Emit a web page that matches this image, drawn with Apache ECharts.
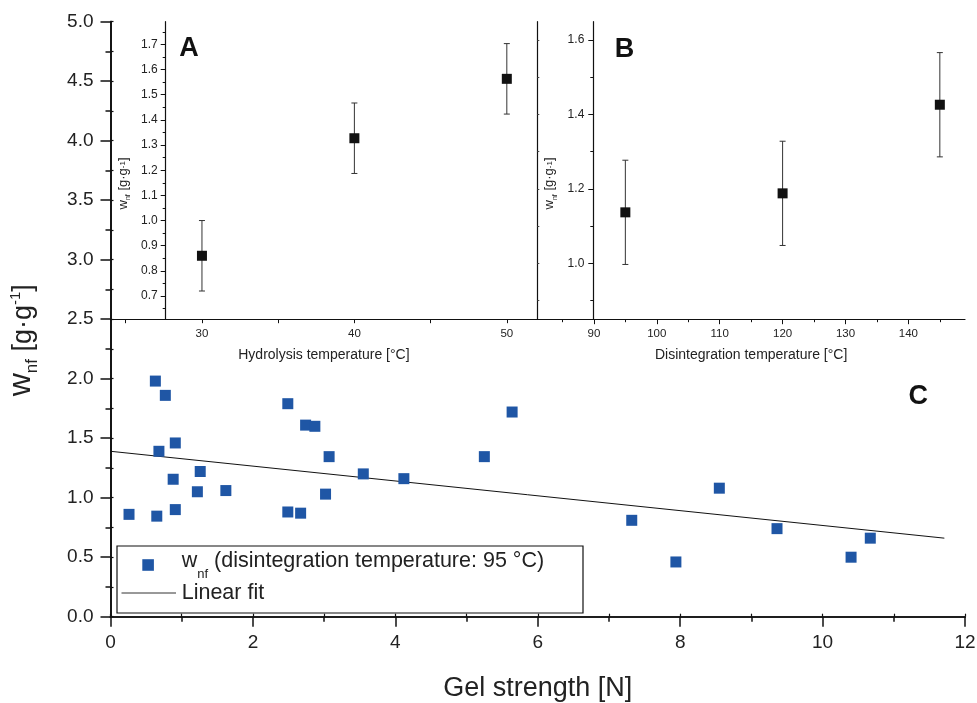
<!DOCTYPE html>
<html>
<head>
<meta charset="utf-8">
<title>wnf vs gel strength</title>
<script src="https://cdn.jsdelivr.net/npm/echarts@6.0.0/dist/echarts.min.js"></script>
<style>
html, body { margin: 0; padding: 0; background: #fff; }
#chart { width: 977px; height: 703px; }
</style>
</head>
<body>
<div id="chart"></div>
<script>
var FONT = 'Liberation Sans, Arial, sans-serif';

// C: gel strength [N] -> wnf
var gelStrength = [0.26, 0.63, 0.77, 0.68, 0.91, 0.88, 0.65, 0.91, 1.26, 1.22, 1.62, 2.49, 2.74, 2.87,
	3.07, 2.49, 2.67, 3.02, 3.55, 4.12, 5.25, 5.64, 7.32, 7.94, 8.55, 9.36, 10.40, 10.67];
var wnfGel = [0.86, 1.98, 1.86, 1.39, 1.46, 1.155, 0.845, 0.90, 1.22, 1.05, 1.06, 1.79, 1.61, 1.60,
	1.345, 0.88, 0.87, 1.03, 1.20, 1.16, 1.345, 1.72, 0.81, 0.46, 1.08, 0.74, 0.50, 0.66];
var fitX = [0, 11.71];
var fitY = [1.39, 0.66];

// A: hydrolysis temperature
var hydroTemp = [30, 40, 50];
var hydroWnf = [0.86, 1.327, 1.563];
var hydroErr = [0.14, 0.14, 0.14];
var hydroXTicks = [25, 30, 35, 40, 45, 50];
var hydroXLabels = [30, 40, 50];
var hydroYLabels = [0.7, 0.8, 0.9, 1.0, 1.1, 1.2, 1.3, 1.4, 1.5, 1.6, 1.7];
var hydroYMinor = [0.65, 0.75, 0.85, 0.95, 1.05, 1.15, 1.25, 1.35, 1.45, 1.55, 1.65, 1.75];

// B: disintegration temperature
var disTemp = [95, 120, 145];
var disWnf = [1.137, 1.188, 1.426];
var disErr = [0.14, 0.14, 0.14];
var disXLabels = [90, 100, 110, 120, 130, 140];
var disXMinor = [85, 95, 105, 115, 125, 135, 145];
var disYLabels = [1.0, 1.2, 1.4, 1.6];
var disYMinor = [0.9, 1.1, 1.3, 1.5];
var disYFrame = [0.9, 1.0, 1.1, 1.2, 1.3, 1.4, 1.5, 1.6];

// frame in pixels
var L = 110.5, T = 21.7, R = 965, B = 616.7, MID = 319.2, SPLIT = 537.3;

var chart = echarts.init(document.getElementById('chart'));

function pairs(xs, ys) {
	return xs.map(function (x, i) { return [x, ys[i]]; });
}
function bars(xs, ys, es) {
	return xs.map(function (x, i) { return [x, ys[i] - es[i], ys[i] + es[i]]; });
}
function renderErrorBar(params, api) {
	var top = api.coord([api.value(0), api.value(2)]);
	var bot = api.coord([api.value(0), api.value(1)]);
	var cap = 3;
	var st = { stroke: '#333', lineWidth: 1 };
	return {
		type: 'group',
		children: [
			{ type: 'line', shape: { x1: top[0], y1: top[1], x2: bot[0], y2: bot[1] }, style: st },
			{ type: 'line', shape: { x1: top[0] - cap, y1: top[1], x2: top[0] + cap, y2: top[1] }, style: st },
			{ type: 'line', shape: { x1: bot[0] - cap, y1: bot[1], x2: bot[0] + cap, y2: bot[1] }, style: st }
		]
	};
}
function fmt1(v) { return (+v).toFixed(1); }

var noSplit = { show: false };
var lineOff = { show: false };
var labelOff = { show: false };

var insetName = '{t|w}{s|nf}{t| [g·g}{p|-1}{t|]}';
var insetRich = {
	t: { fontSize: 13, lineHeight: 13, verticalAlign: 'bottom', padding: [0, 0, 2, 0], fontFamily: FONT, color: '#222' },
	s: { fontSize: 7, lineHeight: 7, verticalAlign: 'bottom', fontFamily: FONT, color: '#222' },
	p: { fontSize: 8, lineHeight: 8, verticalAlign: 'top', fontFamily: FONT, color: '#222' }
};

var option = {
	animation: false,
	backgroundColor: '#fff',
	grid: [
		{ left: L, top: T, width: R - L, height: B - T, outerBoundsMode: 'none' },
		{ left: L, top: T, width: SPLIT - L, height: MID - T, outerBoundsMode: 'none' },
		{ left: SPLIT, top: T, width: R - SPLIT, height: MID - T, outerBoundsMode: 'none' }
	],
	xAxis: [
		{
			gridIndex: 0, type: 'value', position: 'bottom', min: 0, max: 12, interval: 2,
			name: 'Gel strength [N]', nameLocation: 'middle', nameGap: 58,
			nameTextStyle: { fontSize: 27, fontFamily: FONT, color: '#222' },
			axisLine: { show: true, lineStyle: { color: '#111', width: 1.7 } },
			axisTick: { show: true, length: 10, lineStyle: { color: '#111', width: 1.5 } },
			minorTick: { show: true, splitNumber: 2, length: 5, lineStyle: { color: '#111', width: 1.5 } },
			axisLabel: { margin: 17, fontSize: 19, fontFamily: FONT, color: '#222' },
			splitLine: noSplit
		},
		{
			gridIndex: 0, type: 'value', position: 'top', min: 0, max: 12, interval: 1,
			axisLine: { show: true, lineStyle: { color: '#111', width: 1.7 } },
			axisTick: { show: true, length: 3, lineStyle: { color: '#111', width: 1.2 } },
			axisLabel: labelOff, splitLine: noSplit
		},
		{
			gridIndex: 1, type: 'value', position: 'bottom', min: 24, max: 52,
			name: 'Hydrolysis temperature [°C]', nameLocation: 'middle', nameGap: 29,
			nameTextStyle: { fontSize: 14, fontFamily: FONT, color: '#222' },
			axisLine: { show: true, onZero: false, lineStyle: { color: '#111', width: 1.2 } },
			axisTick: { show: true, length: 4, customValues: hydroXTicks, lineStyle: { color: '#111' } },
			axisLabel: { margin: 9, fontSize: 11.5, fontFamily: FONT, color: '#222', customValues: hydroXLabels },
			splitLine: noSplit
		},
		{
			gridIndex: 2, type: 'value', position: 'bottom', min: 81, max: 149,
			name: 'Disintegration temperature [°C]', nameLocation: 'middle', nameGap: 29,
			nameTextStyle: { fontSize: 14, fontFamily: FONT, color: '#222' },
			axisLine: { show: true, onZero: false, lineStyle: { color: '#111', width: 1.2 } },
			axisTick: { show: true, length: 5, customValues: disXLabels, lineStyle: { color: '#111' } },
			axisLabel: { margin: 9, fontSize: 11.5, fontFamily: FONT, color: '#222', customValues: disXLabels },
			splitLine: noSplit
		},
		{
			gridIndex: 2, type: 'value', position: 'bottom', min: 81, max: 149,
			axisLine: lineOff,
			axisTick: { show: true, length: 3, customValues: disXMinor, lineStyle: { color: '#111' } },
			axisLabel: labelOff, splitLine: noSplit
		}
	],
	yAxis: [
		{
			gridIndex: 0, type: 'value', position: 'left', min: 0, max: 5, interval: 0.5,
			name: '{w|w}{s|nf}{t| [g·g}{p|-1}{t|]}', nameLocation: 'middle', nameGap: 70,
			nameTextStyle: {
				padding: [0, 42, 0, 0],
				rich: {
					w: { fontSize: 32, lineHeight: 32, verticalAlign: 'bottom', padding: [0, 0, 3, 0], fontFamily: FONT, color: '#222' },
					t: { fontSize: 27, lineHeight: 27, verticalAlign: 'bottom', padding: [0, 0, 3, 0], fontFamily: FONT, color: '#222' },
					s: { fontSize: 17, lineHeight: 17, verticalAlign: 'bottom', fontFamily: FONT, color: '#222' },
					p: { fontSize: 15, lineHeight: 15, verticalAlign: 'top', fontFamily: FONT, color: '#222' }
				}
			},
			axisLine: { show: true, lineStyle: { color: '#111', width: 1.7 } },
			axisTick: { show: true, length: 10, lineStyle: { color: '#111', width: 1.5 } },
			minorTick: { show: true, splitNumber: 2, length: 5, lineStyle: { color: '#111', width: 1.5 } },
			axisLabel: { margin: 17, fontSize: 19, fontFamily: FONT, color: '#222', formatter: fmt1 },
			splitLine: noSplit
		},
		{
			gridIndex: 0, type: 'value', position: 'right', min: 0, max: 5, interval: 0.25,
			axisLine: { show: true, lineStyle: { color: '#111', width: 1.7 } },
			axisTick: { show: true, length: 3, lineStyle: { color: '#111', width: 1.2 } },
			axisLabel: labelOff, splitLine: noSplit
		},
		{
			gridIndex: 1, type: 'value', position: 'left', offset: -55.2, min: 0.608, max: 1.79,
			name: insetName, nameLocation: 'middle', nameGap: 34,
			nameTextStyle: { padding: [0, 26, 0, 0], rich: insetRich },
			axisLine: { show: true, onZero: false, lineStyle: { color: '#111', width: 1.2 } },
			axisTick: { show: true, length: 5, customValues: hydroYLabels, lineStyle: { color: '#111' } },
			axisLabel: { margin: 8, fontSize: 12, fontFamily: FONT, color: '#222', customValues: hydroYLabels, formatter: fmt1 },
			splitLine: noSplit
		},
		{
			gridIndex: 1, type: 'value', position: 'left', offset: -55.2, min: 0.608, max: 1.79,
			axisLine: lineOff,
			axisTick: { show: true, length: 3, customValues: hydroYMinor, lineStyle: { color: '#111' } },
			axisLabel: labelOff, splitLine: noSplit
		},
		{
			gridIndex: 1, type: 'value', position: 'right', min: 0.608, max: 1.79,
			axisLine: { show: true, onZero: false, lineStyle: { color: '#111', width: 1.2 } },
			axisTick: { show: false }, axisLabel: labelOff, splitLine: noSplit
		},
		{
			gridIndex: 2, type: 'value', position: 'left', offset: -56, min: 0.85, max: 1.649,
			name: insetName, nameLocation: 'middle', nameGap: 35,
			nameTextStyle: { padding: [0, 26, 0, 0], rich: insetRich },
			axisLine: { show: true, onZero: false, lineStyle: { color: '#111', width: 1.2 } },
			axisTick: { show: true, length: 5, customValues: disYLabels, lineStyle: { color: '#111' } },
			axisLabel: { margin: 9, fontSize: 12, fontFamily: FONT, color: '#222', customValues: disYLabels, formatter: fmt1 },
			splitLine: noSplit
		},
		{
			gridIndex: 2, type: 'value', position: 'left', offset: -56, min: 0.85, max: 1.649,
			axisLine: lineOff,
			axisTick: { show: true, length: 3, customValues: disYMinor, lineStyle: { color: '#111' } },
			axisLabel: labelOff, splitLine: noSplit
		},
		{
			gridIndex: 2, type: 'value', position: 'left', min: 0.85, max: 1.649,
			axisLine: lineOff,
			axisTick: { show: true, inside: true, length: 2, customValues: disYFrame, lineStyle: { color: '#444' } },
			axisLabel: labelOff, splitLine: noSplit
		}
	],
	graphic: [
		{ type: 'text', x: 189, y: 49, style: { text: 'A', font: 'bold 27px ' + FONT, fill: '#111', align: 'center', verticalAlign: 'middle' } },
		{ type: 'text', x: 624.5, y: 50, style: { text: 'B', font: 'bold 27px ' + FONT, fill: '#111', align: 'center', verticalAlign: 'middle' } },
		{ type: 'text', x: 918.3, y: 397, style: { text: 'C', font: 'bold 27px ' + FONT, fill: '#111', align: 'center', verticalAlign: 'middle' } },
		// legend box
		{ type: 'rect', shape: { x: 117, y: 546, width: 466, height: 67 }, style: { fill: '#fff', stroke: '#111', lineWidth: 1.2 }, z: 50 },
		{ type: 'rect', shape: { x: 142.3, y: 559.2, width: 11.6, height: 11.6 }, style: { fill: '#1f56a5' }, z: 51 },
		{ type: 'line', shape: { x1: 121.5, y1: 593, x2: 176, y2: 593 }, style: { stroke: '#333', lineWidth: 1 }, z: 51 },
		{
			type: 'text', x: 181.7, y: 570.5, z: 51,
			style: {
				text: '{w|w}{s|nf}{w| (disintegration temperature: 95 °C)}',
				verticalAlign: 'middle', align: 'left',
				rich: {
					w: { fontSize: 21.5, lineHeight: 21, verticalAlign: 'bottom', padding: [0, 0, 9, 0], fontFamily: FONT, fill: '#222' },
					s: { fontSize: 13, lineHeight: 13, verticalAlign: 'bottom', fontFamily: FONT, fill: '#222' }
				}
			}
		},
		{ type: 'text', x: 181.7, y: 593, z: 51, style: { text: 'Linear fit', font: '21.5px ' + FONT, fill: '#222', align: 'left', verticalAlign: 'middle' } }
	],
	series: [
		{
			name: 'Linear fit', type: 'line', xAxisIndex: 0, yAxisIndex: 0,
			data: pairs(fitX, fitY), symbol: 'none',
			lineStyle: { color: '#111', width: 1 }, z: 2
		},
		{
			name: 'wnf', type: 'scatter', xAxisIndex: 0, yAxisIndex: 0,
			data: pairs(gelStrength, wnfGel), symbol: 'rect', symbolSize: 11,
			itemStyle: { color: '#1f56a5', opacity: 1 }, z: 3
		},
		{
			type: 'custom', xAxisIndex: 2, yAxisIndex: 2, renderItem: renderErrorBar,
			data: bars(hydroTemp, hydroWnf, hydroErr), encode: { x: 0, y: [1, 2] }, z: 3
		},
		{
			type: 'scatter', xAxisIndex: 2, yAxisIndex: 2,
			data: pairs(hydroTemp, hydroWnf), symbol: 'rect', symbolSize: 10,
			itemStyle: { color: '#111', opacity: 1 }, z: 4
		},
		{
			type: 'custom', xAxisIndex: 3, yAxisIndex: 5, renderItem: renderErrorBar,
			data: bars(disTemp, disWnf, disErr), encode: { x: 0, y: [1, 2] }, z: 3
		},
		{
			type: 'scatter', xAxisIndex: 3, yAxisIndex: 5,
			data: pairs(disTemp, disWnf), symbol: 'rect', symbolSize: 10,
			itemStyle: { color: '#111', opacity: 1 }, z: 4
		}
	]
};

chart.setOption(option);
</script>
</body>
</html>
